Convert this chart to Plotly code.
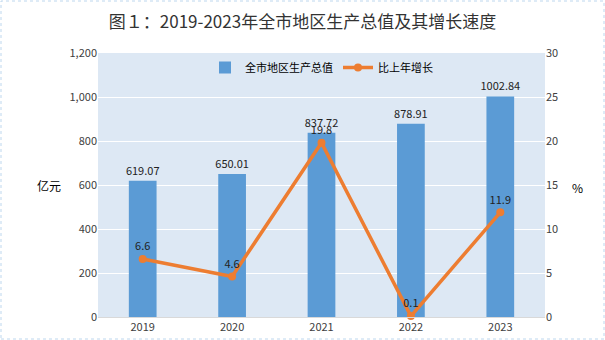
import plotly.graph_objects as go

years = ["2019", "2020", "2021", "2022", "2023"]
gdp = [619.07, 650.01, 837.72, 878.91, 1002.84]
growth = [6.6, 4.6, 19.8, 0.1, 11.9]
gdp_labels = ["619.07", "650.01", "837.72", "878.91", "1002.84"]
growth_labels = ["6.6", "4.6", "19.8", "0.1", "11.9"]

FONT = "Noto Sans CJK SC, Noto Sans, sans-serif"
TXT = "#404040"

fig = go.Figure()
fig.add_trace(go.Bar(
    x=years, y=gdp, name="全市地区生产总值",
    marker=dict(color="#5B9BD5", line=dict(width=0)),
    width=0.31,
    text=gdp_labels, textposition="outside", constraintext="none",
    textfont=dict(size=11, color="#222222", family=FONT),
    cliponaxis=False,
))
fig.add_trace(go.Scatter(
    x=years, y=growth, name="比上年增长", yaxis="y2",
    mode="lines+markers+text",
    line=dict(color="#ED7D31", width=3.5),
    marker=dict(color="#ED7D31", size=8, symbol="circle"),
    text=growth_labels, textposition="top center",
    textfont=dict(size=11, color="#222222", family=FONT),
    cliponaxis=False,
))

L, R, T, B = 98, 60, 53, 23
W, H = 605, 340
pw, ph = W - L - R, H - T - B

fig.update_layout(
    width=W, height=H,
    margin=dict(l=L, r=R, t=T, b=B, autoexpand=False),
    paper_bgcolor="white",
    plot_bgcolor="#DDE8F4",
    font=dict(family=FONT, size=11, color=TXT),
    showlegend=True,
    legend=dict(orientation="h", x=0.5, xanchor="center", y=1.0, yanchor="top",
                bgcolor="rgba(0,0,0,0)", font=dict(size=11, color="#000000"),
                itemwidth=30),
    title=dict(text="图１：2019-2023年全市地区生产总值及其增长速度",
               x=0.5, xanchor="center", y=1 - 22 / H, yanchor="middle",
               font=dict(size=17, color="#333333", family=FONT)),
    bargap=0.69,
    xaxis=dict(showgrid=False, showline=True, linecolor="#D9D9D9", ticks="",
               automargin=False, tickfont=dict(size=11, color=TXT)),
    yaxis=dict(range=[0, 1200], dtick=200, tickformat=",", gridcolor="white",
               gridwidth=1, zeroline=False, ticks="", automargin=False,
               tickfont=dict(size=11, color=TXT)),
    yaxis2=dict(range=[0, 30], dtick=5, overlaying="y", side="right", showgrid=False,
                zeroline=False, ticks="", automargin=False,
                tickfont=dict(size=11, color=TXT)),
    annotations=[
        dict(text="亿元", xref="paper", yref="paper", x=(35 - L) / pw, y=(H - B - 185) / ph,
             showarrow=False, font=dict(size=12, color="#000000")),
        dict(text="%", xref="paper", yref="paper", x=(585 - L) / pw, y=(H - B - 187) / ph,
             showarrow=False, font=dict(size=12, color="#000000")),
    ],
    shapes=[
        dict(type="rect", xref="paper", yref="paper",
             x0=(1 - L) / pw, x1=(W - 1 - L) / pw,
             y0=(1 - B) / ph, y1=(H - 1 - B) / ph,
             line=dict(color="#BDD7EE", width=1, dash="dot"), layer="below"),
    ],
)

fig.write_html("out.html")
